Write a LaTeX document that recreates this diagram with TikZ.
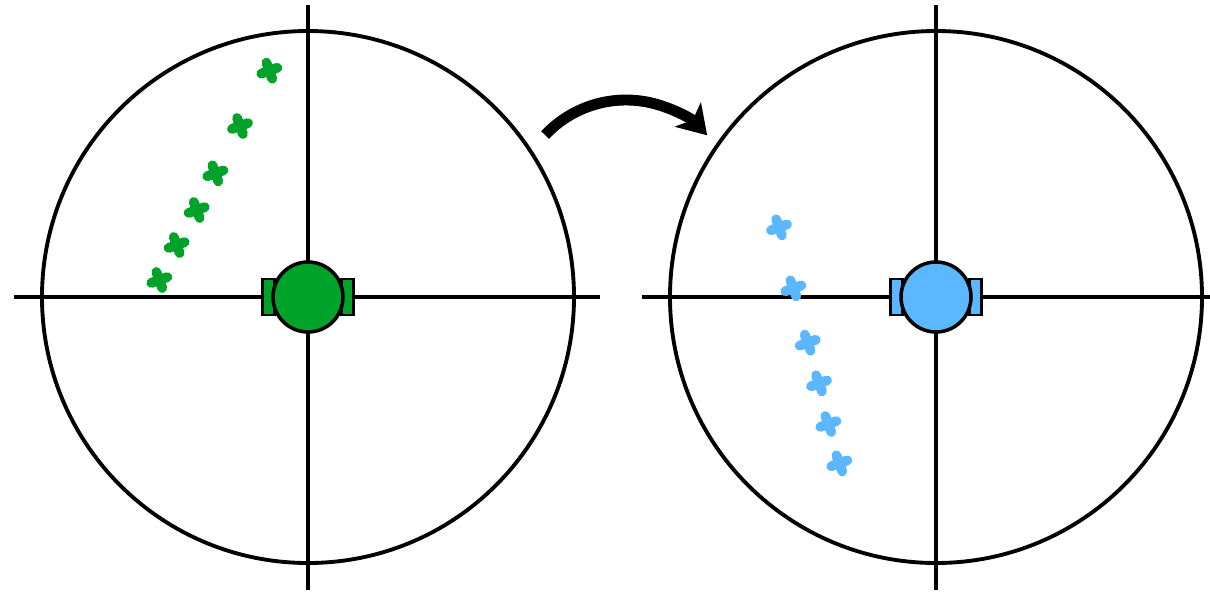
\documentclass[tikz,border=0pt]{standalone}
\usepackage{tikz}
\usetikzlibrary{arrows.meta}

\definecolor{robotgreen}{HTML}{00A32A}
\definecolor{robotblue}{HTML}{5BB7FF}

\begin{document}
\begin{tikzpicture}[
    axis/.style={line width=1.1pt},
    wheel/.style={draw=black, line width=0.8pt},
    body/.style={draw=black, line width=1pt},
    landmark/.style={line width=2.8pt, line cap=round}
  ]
    \useasboundingbox (-3.08,-2.97) rectangle (9.02,2.97);

    % range circles and axes
    \draw[axis] (0,0) circle (2.66);
    \draw[axis] (-2.94,0) -- (2.92,0);
    \draw[axis] (0,-2.93) -- (0,2.92);
    \draw[axis] (6.28,0) circle (2.66);
    \draw[axis] (3.34,0) -- (9.02,0);
    \draw[axis] (6.28,-2.93) -- (6.28,2.92);

    % robots
    \foreach \cx/\col in {0/robotgreen, 6.28/robotblue} {
      \filldraw[wheel, fill=\col] (\cx-0.455,-0.18) rectangle (\cx-0.335,0.18);
      \filldraw[wheel, fill=\col] (\cx+0.335,-0.18) rectangle (\cx+0.455,0.18);
      \filldraw[body, fill=\col] (\cx,0) circle (0.35);
    }

    % landmarks before the move
    \foreach \x/\y in {-0.387/2.263, -0.68/1.71, -0.927/1.237, -1.113/0.87, -1.313/0.52, -1.487/0.17} {
      \draw[landmark, robotgreen, rotate around={20:(\x,\y)}] (\x-0.085,\y) -- (\x+0.085,\y) (\x,\y-0.085) -- (\x,\y+0.085);
    }

    % landmarks after the move
    \foreach \x/\y in {-1.57/0.697, -1.427/0.087, -1.283/-0.457, -1.17/-0.863, -1.077/-1.27, -0.967/-1.663} {
      \draw[landmark, robotblue, rotate around={20:(6.28+\x,\y)}] (6.28+\x-0.085,\y) -- (6.28+\x+0.085,\y) (6.28+\x,\y-0.085) -- (6.28+\x,\y+0.085);
    }

    % motion arrow
    \draw[line width=3.1pt, -{Stealth[length=8pt, width=10pt, inset=2pt]}]
      ([shift={(136.8:1.11)}]3.18,0.86) arc (136.8:43:1.11);
  \end{tikzpicture}
\end{document}
